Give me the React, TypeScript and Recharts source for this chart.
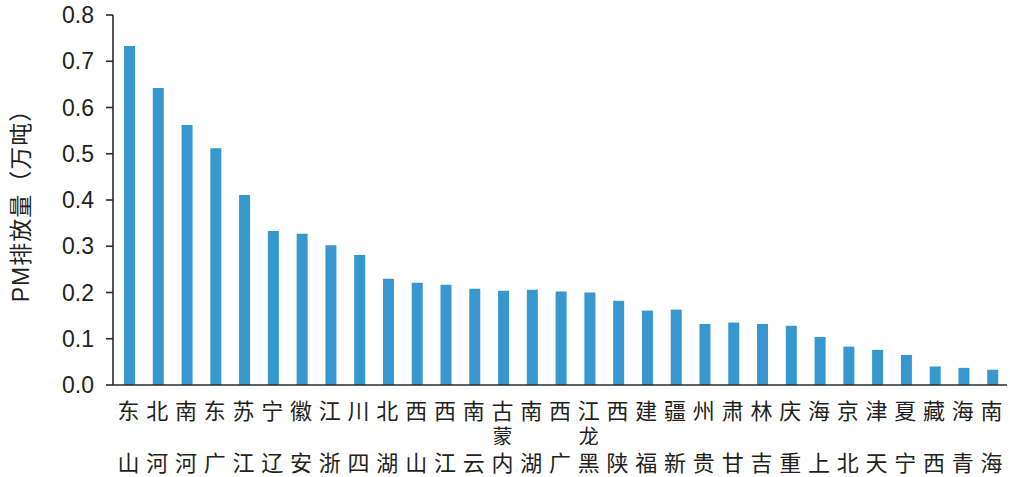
import { Bar, BarChart, XAxis, YAxis } from "recharts";

const provinces = [
  "山东", "河北", "河南", "广东", "江苏", "辽宁", "安徽", "浙江", "四川", "湖北",
  "山西", "江西", "云南", "内蒙古", "湖南", "广西", "黑龙江", "陕西", "福建", "新疆",
  "贵州", "甘肃", "吉林", "重庆", "上海", "北京", "天津", "宁夏", "西藏", "青海", "海南"
];

const emissions = [
  0.733, 0.642, 0.562, 0.512, 0.411, 0.333, 0.327, 0.302, 0.281, 0.23,
  0.221, 0.217, 0.208, 0.204, 0.206, 0.202, 0.2, 0.182, 0.161, 0.163,
  0.132, 0.135, 0.132, 0.128, 0.104, 0.083, 0.076, 0.065, 0.04, 0.037, 0.033
];

const yTicks = [0, 0.1, 0.2, 0.3, 0.4, 0.5, 0.6, 0.7, 0.8];

const data = provinces.map((name, i) => ({ name, value: emissions[i] }));

const textColor = "#231f20";
const axisColor = "#2b2b2b";
const latinFont = "'Liberation Sans', Arial, 'Noto Sans CJK SC', sans-serif";
const cjkFont = "'Noto Sans CJK SC', sans-serif";

// characters stand upright, read from bottom to top; last char sits on the top row
const rowOffsets = [24, 50, 76];

function ProvinceTick(props: any) {
  const { x, y, payload } = props;
  const chars = Array.from(String(payload.value));
  const n = chars.length;
  // order the glyphs top row first
  const rows = chars
    .map((ch, i) => ({ ch, row: i === 0 ? 2 : n - 1 - i }))
    .sort((a, b) => a.row - b.row);
  return (
    <text
      transform={`translate(${x},${y})`}
      textAnchor="middle"
      dominantBaseline="central"
      fontSize={22}
      fontFamily={cjkFont}
      fill={textColor}
    >
      {rows.map(({ ch, row }) => (
        <tspan key={row} x={-1} y={rowOffsets[row]} fontSize={n === 3 && row === 1 ? 20 : 22}>
          {ch}
        </tspan>
      ))}
    </text>
  );
}

function YTitle() {
  return (
    <text
      transform="translate(21,200) rotate(-90)"
      textAnchor="middle"
      dominantBaseline="central"
      fontSize={23}
      letterSpacing={1}
      fontFamily={latinFont}
      fill={textColor}
    >
      PM排放量（万吨）
    </text>
  );
}

export default function App() {
  return (
    <div style={{ position: "absolute", left: 0, top: 0, background: "#fff" }}>
      <BarChart
        width={1010}
        height={477}
        data={data}
        margin={{ top: 15, right: 3, bottom: 0, left: 0 }}
        barCategoryGap={0}
      >
        <XAxis
          dataKey="name"
          interval={0}
          height={92}
          tickLine={false}
          tickSize={0}
          tickMargin={0}
          padding={{ left: 2, right: 0 }}
          axisLine={{ stroke: axisColor, strokeWidth: 1.6 }}
          tick={<ProvinceTick />}
        />
        <YAxis
          width={113}
          domain={[0, 0.8]}
          ticks={yTicks}
          tickFormatter={(v: number) => v.toFixed(1)}
          tickSize={7}
          tickMargin={12}
          axisLine={{ stroke: axisColor, strokeWidth: 1.6 }}
          tickLine={{ stroke: axisColor, strokeWidth: 1.6 }}
          tick={{ fill: textColor, fontSize: 23, fontFamily: latinFont }}
          label={<YTitle />}
        />
        <Bar dataKey="value" fill="#3797cf" barSize={11} isAnimationActive={false} />
      </BarChart>
    </div>
  );
}
